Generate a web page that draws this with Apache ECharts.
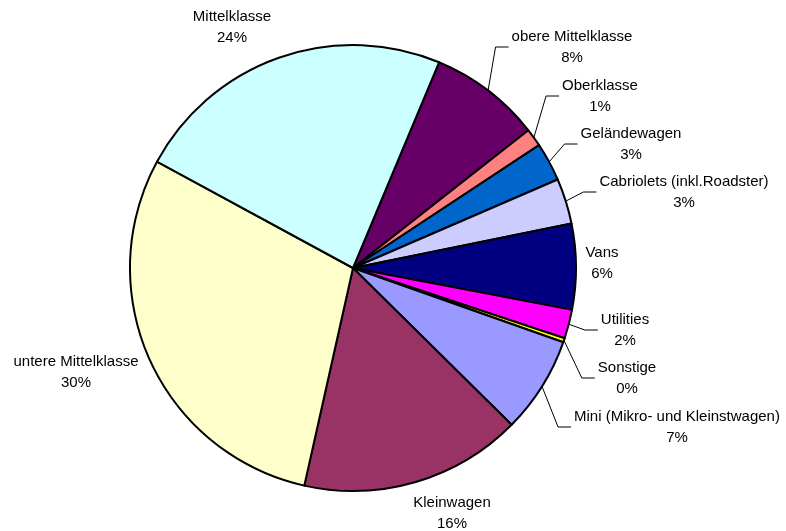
<!DOCTYPE html>
<html>
<head>
<meta charset="utf-8">
<script src="https://cdn.jsdelivr.net/npm/echarts@6/dist/echarts.min.js"></script>
<style>
html,body{margin:0;padding:0;background:#fff;}
#chart{width:786px;height:531px;}
</style>
</head>
<body>
<div id="chart"></div>
<script>
// Data (clockwise from the first slice)
const categories = [
  'obere Mittelklasse', 'Oberklasse', 'Geländewagen', 'Cabriolets (inkl.Roadster)',
  'Vans', 'Utilities', 'Sonstige', 'Mini (Mikro- und Kleinstwagen)',
  'Kleinwagen', 'untere Mittelklasse', 'Mittelklasse'
];
const shares = [8.1, 1.3, 2.8, 3.3, 6.2, 2.1, 0.3, 7.0, 16.1, 29.4, 23.4];

// Styles
const colors = ['#660066', '#FF8080', '#0066CC', '#CCCCFF', '#000080', '#FF00FF',
                '#FFFF00', '#9999FF', '#993366', '#FFFFCC', '#CCFFFF'];
const hasLeader = [true, true, true, true, false, true, true, true, false, false, false];
// label block centres (layout only)
const labelAt = [
  [572, 47], [600, 96], [631, 144], [684, 192], [602, 263], [625, 330],
  [627, 378], [677, 427], [452, 513], [76, 372], [232, 27]
];

const chart = echarts.init(document.getElementById('chart'), null, {renderer: 'canvas'});
chart.setOption({
  animation: false,
  backgroundColor: '#ffffff',
  series: [{
    type: 'pie',
    center: [353, 268],
    radius: [0, 223],
    startAngle: 67.3,
    clockwise: true,
    percentPrecision: 0,
    avoidLabelOverlap: false,
    emphasis: {disabled: true},
    itemStyle: {borderColor: '#000000', borderWidth: 2},
    label: {
      show: true,
      position: 'outside',
      formatter: '{b}\n{d}%',
      fontFamily: '"Liberation Sans", Arial, sans-serif',
      fontSize: 15,
      lineHeight: 21,
      color: '#000000',
      align: 'center',
      bleedMargin: 0
    },
    labelLine: {show: true, length: 5, length2: 5, lineStyle: {color: '#000000', width: 1}},
    labelLayout: function (p) {
      const pos = labelAt[p.dataIndex];
      const w = p.labelRect.width;
      const left = pos[0] - w / 2;
      const res = {x: pos[0], y: pos[1], align: 'center', verticalAlign: 'middle'};
      if (p.labelLinePoints && hasLeader[p.dataIndex]) {
        res.labelLinePoints = [p.labelLinePoints[0], [left - 16, pos[1]], [left - 3, pos[1]]];
      }
      return res;
    },
    data: categories.map((c, i) => ({
      name: c,
      value: shares[i],
      itemStyle: {color: colors[i]},
      labelLine: {show: hasLeader[i]}
    }))
  }]
});
</script>
</body>
</html>
